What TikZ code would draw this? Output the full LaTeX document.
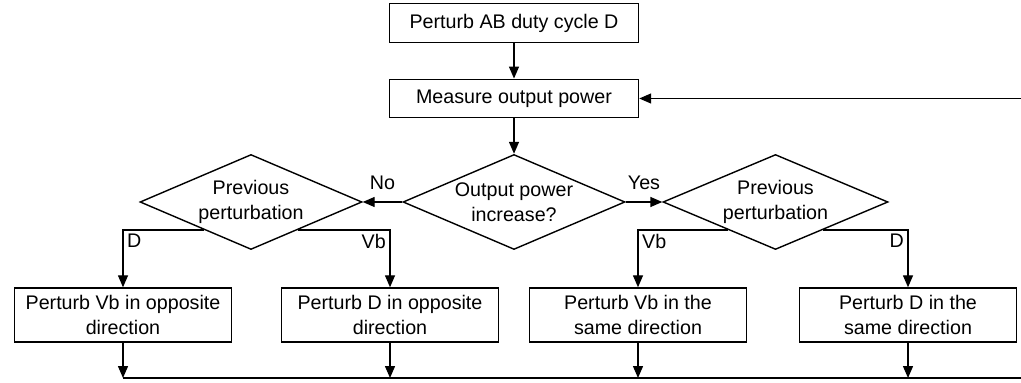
\documentclass[tikz,border=0pt]{standalone}
\usepackage{fontspec}
\setmainfont{Liberation Sans}
\usetikzlibrary{shapes.geometric,arrows.meta,calc}
\tikzset{
  topbox/.style={draw, rectangle, inner sep=0pt, minimum width=4.98cm, minimum height=0.77cm},
  procbox/.style={draw, rectangle, inner sep=0pt, minimum width=4.35cm, minimum height=1.08cm, align=center},
  decision/.style={draw, diamond, inner sep=0pt, aspect=2.34, minimum width=4.44cm, minimum height=1.9cm, align=center},
  lbl/.style={inner sep=2pt}
}
\begin{document}
\begin{tikzpicture}[line width=0.8pt, >={Triangle[length=2.4mm,width=2mm]},
    every node/.style={font=\fontsize{11.2}{14.2}\selectfont}]
    \useasboundingbox (0,0) rectangle (20.42,-7.66);
    % top of the loop
    \node[topbox] (pab) at (10.28,-0.46) {Perturb AB duty cycle D};
    \node[topbox] (meas) at (10.28,-1.97) {Measure output power};
    \node[decision] (inc) at (10.28,-4.04) {Output power\\increase?};
    \node[decision] (prevL) at (5.02,-4.04) {Previous\\perturbation};
    \node[decision, minimum width=4.5cm] (prevR) at (15.51,-4.04) {Previous\\perturbation};
    % actions
    \node[procbox] (pvo) at (2.46,-6.3) {Perturb Vb in opposite\\direction};
    \node[procbox] (pdo) at (7.8,-6.3) {Perturb D in opposite\\direction};
    \node[procbox] (pvs) at (12.76,-6.3) {Perturb Vb in the\\same direction};
    \node[procbox] (pds) at (18.16,-6.3) {Perturb D in the\\same direction};
    \coordinate (busL) at (2.46,-7.56);
    \coordinate (busR) at (20.42,-7.56);
    \coordinate (fb) at (20.42,-1.97);

    \draw[->] (pab) -- (meas);
    \draw[->] (fb) -- (meas);
    \draw[->] (meas) -- (inc);
    \draw[->] (inc.west) -- (prevL.east) node[midway, above=3pt] {No};
    \draw[->] (inc.east) -- (prevR.west) node[midway, above=3pt] {Yes};
    \draw[->] ($(prevL.west)!0.58!(prevL.south)$) -| (pvo.north) node[lbl, pos=0.5, below right] {D};
    \draw[->] ($(prevL.east)!0.58!(prevL.south)$) -| (pdo.north) node[lbl, pos=0.5, below left] {Vb};
    \draw[->] ($(prevR.west)!0.58!(prevR.south)$) -| (pvs.north) node[lbl, pos=0.5, below right] {Vb};
    \draw[->] ($(prevR.east)!0.58!(prevR.south)$) -| (pds.north) node[lbl, pos=0.5, below left] {D};
    \draw (busL) -- (busR);
    \foreach \n in {pvo,pdo,pvs,pds}
        \draw[->] (\n.south) -- (\n.south |- busL);
\end{tikzpicture}
\end{document}
